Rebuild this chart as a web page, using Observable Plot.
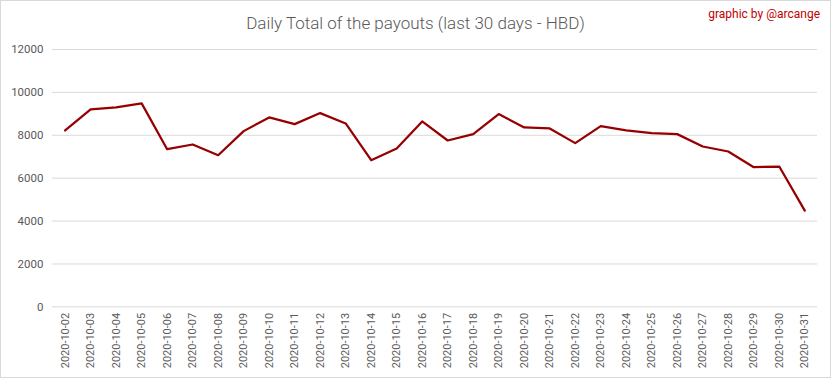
<!DOCTYPE html>
<html>
<head>
<meta charset="utf-8">
<script src="https://cdn.jsdelivr.net/npm/d3@7"></script>
<script src="https://cdn.jsdelivr.net/npm/@observablehq/plot@0.6"></script>
<style>
  html, body { margin: 0; padding: 0; background: #fff; }
  #wrap { position: relative; width: 831px; height: 378px; border: 1px solid #d9d9d9; box-sizing: border-box; overflow: hidden; }
  #title { height: 40px; line-height: 44px; text-align: center; font-family: "Roboto", sans-serif; font-weight: 300; font-size: 17px; color: #595959; }
  #credit { position: absolute; top: 6px; right: 10px; font-family: "Roboto", sans-serif; font-size: 12px; color: #c00000; }
  svg { display: block; }
</style>
</head>
<body>
<div id="wrap">
  <div id="credit">graphic by @arcange</div>
  <div id="title">Daily Total of the payouts (last 30 days - HBD)</div>
  <div id="chart"></div>
</div>
<script>
const dates = ["2020-10-02","2020-10-03","2020-10-04","2020-10-05","2020-10-06","2020-10-07","2020-10-08","2020-10-09","2020-10-10","2020-10-11","2020-10-12","2020-10-13","2020-10-14","2020-10-15","2020-10-16","2020-10-17","2020-10-18","2020-10-19","2020-10-20","2020-10-21","2020-10-22","2020-10-23","2020-10-24","2020-10-25","2020-10-26","2020-10-27","2020-10-28","2020-10-29","2020-10-30","2020-10-31"];
const payouts = [8225,9206,9300,9486,7351,7570,7071,8193,8832,8520,9034,8552,6838,7383,8645,7757,8053,8988,8365,8318,7633,8427,8225,8100,8053,7477,7243,6511,6542,4486];
const yTicks = [0,2000,4000,6000,8000,10000,12000];

const data = dates.map((d, i) => ({date: d, value: payouts[i]}));

const chart = Plot.plot({
  width: 831,
  height: 336,
  marginTop: 8,
  marginLeft: 51,
  marginRight: 13,
  marginBottom: 70,
  style: {fontFamily: "Roboto, sans-serif", fontSize: "11px", color: "#595959", background: "#fff"},
  x: {type: "point", domain: dates, padding: 0.5, round: false, label: null},
  y: {domain: [0, 12000], ticks: yTicks, label: null},
  marks: [
    Plot.gridY(yTicks, {stroke: "#d9d9d9", strokeOpacity: 1}),
    Plot.axisY(yTicks, {tickSize: 0, tickPadding: 9, tickFormat: d => String(d), fontSize: 11.5}),
    Plot.axisX({tickSize: 0, tickPadding: 6, tickRotate: -90, fontSize: 11}),
    Plot.lineY(data, {x: "date", y: "value", stroke: "#960000", strokeWidth: 2.25})
  ]
});
document.getElementById("chart").appendChild(chart);
</script>
</body>
</html>
